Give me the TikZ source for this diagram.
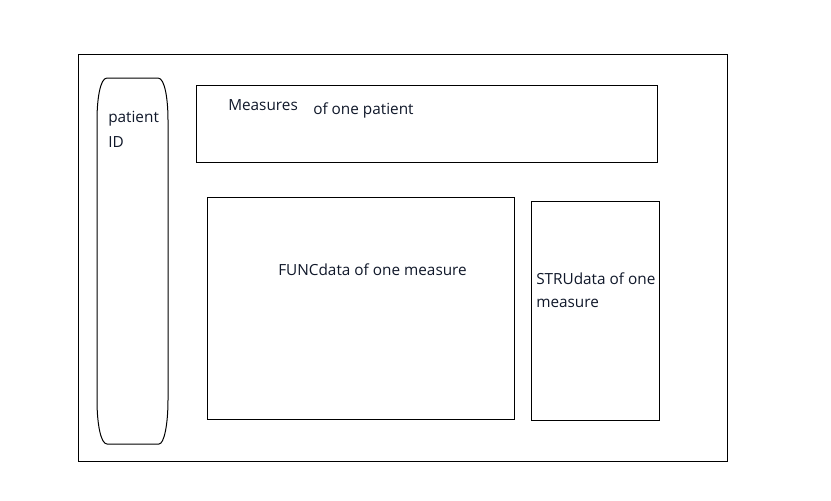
\documentclass[tikz,border=0pt]{standalone}
\usepackage{fontspec}
\setmainfont{Open Sans}
\begin{document}
\begin{tikzpicture}[x=0.75pt,y=-0.75pt,
  frame/.style={draw=black,line width=0.75pt},
  lbl/.style={anchor=base west,inner sep=0pt,text=textc,font=\fontsize{11.5pt}{13pt}\selectfont}]
\definecolor{textc}{HTML}{10182A}
\useasboundingbox[fill=white] (0,0) rectangle (831,500);
\draw[frame] (78,54) rectangle (727,461);
\draw[frame] (107,78) -- (158,78) .. controls (165,78) and (168,100) .. (168,120)
  -- (168,400) .. controls (168,425) and (164,444) .. (159,444)
  -- (107,444) .. controls (101,444) and (97,425) .. (97,400)
  -- (97,120) .. controls (97,100) and (100,78) .. (107,78);
\draw[frame] (196,85) rectangle (657,162);
\draw[frame] (207,197) rectangle (514,419);
\draw[frame] (531,201) rectangle (659,420);
\node[lbl] (pid1) at (108,122) {patient};
\node[lbl] (pid2) at (108,147) {ID};
\node[lbl] (meas) at (228,110) {Measures};
\node[lbl] (ofone) at (313,114) {of one patient};
\node[lbl] (func) at (278,275) {FUNCdata of one measure};
\node[lbl] (stru1) at (536,284) {STRUdata of one};
\node[lbl] (stru2) at (536,307) {measure};
\end{tikzpicture}
\end{document}
